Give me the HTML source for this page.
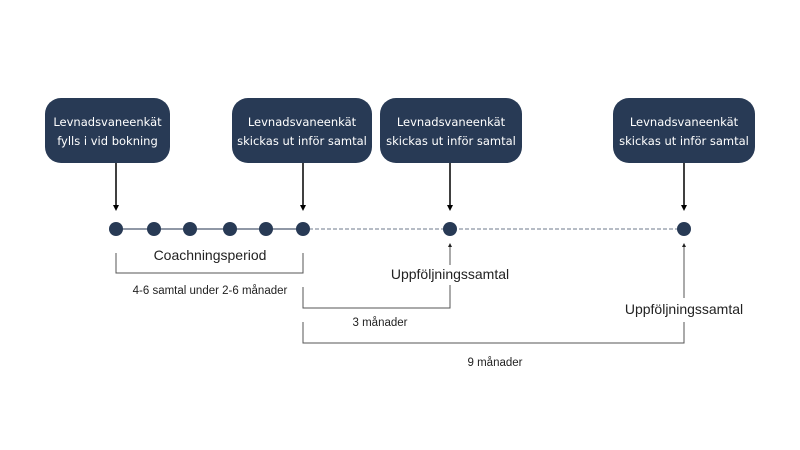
<!DOCTYPE html>
<html><head><meta charset="utf-8"><style>
body{margin:0;background:#fff;}
svg{display:block;font-family:"DejaVu Sans","Liberation Sans",sans-serif;}
</style></head><body>
<svg width="800" height="450" viewBox="0 0 800 450" xmlns="http://www.w3.org/2000/svg">
<defs>
<marker id="ah" markerWidth="6" markerHeight="6" refX="3" refY="3" orient="auto" markerUnits="userSpaceOnUse"><path d="M0,0 L6,3 L0,6 z" fill="#000"/></marker>
<marker id="as" markerWidth="4" markerHeight="4" refX="2" refY="2" orient="auto" markerUnits="userSpaceOnUse"><path d="M0,0 L4,2 L0,4 z" fill="#222"/></marker>
</defs>
<g fill="#283a55">
<rect x="45" y="98" width="125" height="65" rx="16"/>
<rect x="232" y="98" width="140" height="65" rx="16"/>
<rect x="380" y="98" width="142" height="65" rx="16"/>
<rect x="613" y="98" width="142" height="65" rx="16"/>
</g>
<g fill="#fff" font-size="11.5" text-anchor="middle">
<text x="107.5" y="126">Levnadsvaneenkät</text><text x="107.5" y="145">fylls i vid bokning</text>
<text x="302" y="126">Levnadsvaneenkät</text><text x="302" y="145">skickas ut inför samtal</text>
<text x="451" y="126">Levnadsvaneenkät</text><text x="451" y="145">skickas ut inför samtal</text>
<text x="684" y="126">Levnadsvaneenkät</text><text x="684" y="145">skickas ut inför samtal</text>
</g>
<g stroke="#000" stroke-width="1.5" marker-end="url(#ah)">
<line x1="116" y1="163" x2="116" y2="208"/>
<line x1="303" y1="163" x2="303" y2="208"/>
<line x1="450" y1="163" x2="450" y2="208"/>
<line x1="684" y1="163" x2="684" y2="208"/>
</g>
<line x1="116" y1="229" x2="303" y2="229" stroke="#6b7788" stroke-width="1.5"/>
<line x1="303" y1="229" x2="684" y2="229" stroke="#8a94a2" stroke-width="1.2" stroke-dasharray="4,2"/>
<g fill="#283a55">
<circle cx="116" cy="229" r="7"/><circle cx="154" cy="229" r="7"/><circle cx="190" cy="229" r="7"/>
<circle cx="230" cy="229" r="7"/><circle cx="266" cy="229" r="7"/><circle cx="303" cy="229" r="7"/>
<circle cx="450" cy="229" r="7"/><circle cx="684" cy="229" r="7"/>
</g>
<g stroke="#555" stroke-width="1" fill="none">
<polyline points="116,253 116,273 303,273 303,253"/>
<polyline points="303,287 303,308 450,308 450,285"/>
<polyline points="303,322 303,343 684,343 684,322"/>
<line x1="450" y1="265" x2="450" y2="245" marker-end="url(#as)"/>
<line x1="684" y1="298" x2="684" y2="245" marker-end="url(#as)"/>
</g>
<g fill="#222" text-anchor="middle" font-family="'Liberation Sans',sans-serif">
<text x="210" y="260" font-size="14">Coachningsperiod</text>
<text x="210" y="294" font-size="11.5">4-6 samtal under 2-6 månader</text>
<text x="450" y="279" font-size="14">Uppföljningssamtal</text>
<text x="380" y="326" font-size="11.5">3 månader</text>
<text x="684" y="314" font-size="14">Uppföljningssamtal</text>
<text x="495" y="366" font-size="11.5">9 månader</text>
</g>
</svg>
</body></html>
